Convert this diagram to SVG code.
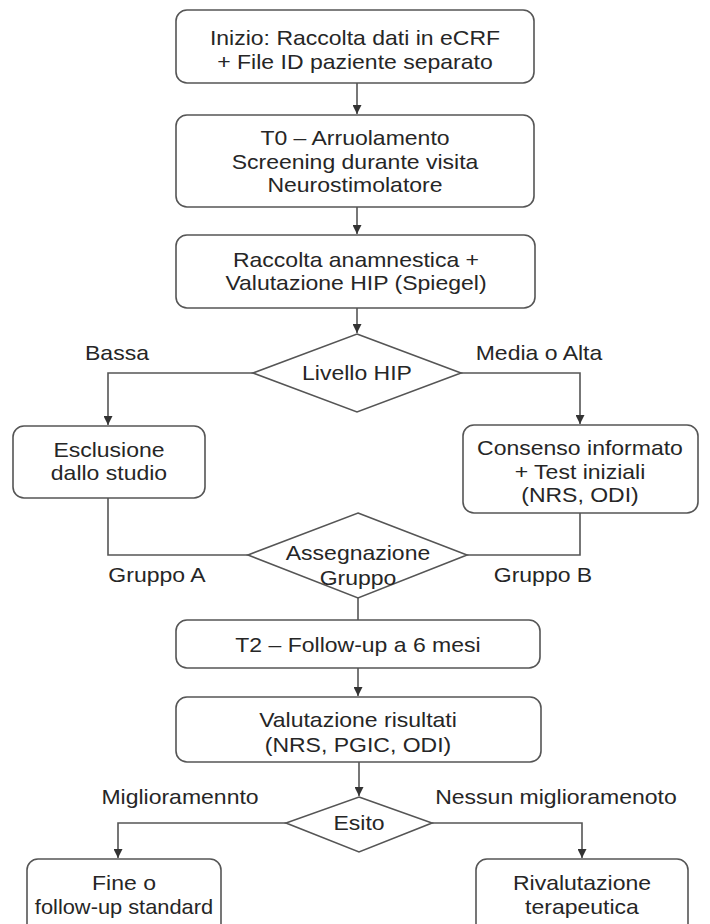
<svg xmlns="http://www.w3.org/2000/svg" width="710" height="924" viewBox="0 0 710 924">
<style>
.box{fill:#fff;stroke:#555;stroke-width:1.6}
.dia{fill:#fff;stroke:#555;stroke-width:1.6}
.c{fill:none;stroke:#555;stroke-width:1.6}
.t{font-family:"Liberation Sans",Arial,sans-serif;font-size:20px;fill:#262626;text-anchor:middle;transform-box:fill-box;transform-origin:center;transform:scaleX(1.15)}
</style>
<defs>
<marker id="ah" viewBox="0 0 10 10" refX="10" refY="5" markerWidth="9" markerHeight="9" markerUnits="userSpaceOnUse" orient="auto">
<path d="M0,0 L10,5 L0,10 z" fill="#333"/>
</marker>
</defs>
<rect width="710" height="924" fill="#fff"/>
<g id="connectors">
<path class="c" d="M357,83 V114" marker-end="url(#ah)"/>
<path class="c" d="M357,207 V234" marker-end="url(#ah)"/>
<path class="c" d="M357,308 V333" marker-end="url(#ah)"/>
<path class="c" d="M253,373 H108 V425" marker-end="url(#ah)"/>
<path class="c" d="M461,373 H580 V424" marker-end="url(#ah)"/>
<path class="c" d="M108,498 V555 H248"/>
<path class="c" d="M580,513 V555 H467"/>
<path class="c" d="M358,598 V620"/>
<path class="c" d="M358,668 V696" marker-end="url(#ah)"/>
<path class="c" d="M359,762 V796" marker-end="url(#ah)"/>
<path class="c" d="M286,823 H118 V858" marker-end="url(#ah)"/>
<path class="c" d="M432,823 H582 V858" marker-end="url(#ah)"/>
</g>
<g id="labels">
<text class="t" x="117" y="360">Bassa</text>
<text class="t" x="539" y="360">Media o Alta</text>
<text class="t" x="157" y="582">Gruppo A</text>
<text class="t" x="543" y="582">Gruppo B</text>
<text class="t" x="180" y="804">Miglioramennto</text>
<text class="t" x="556" y="804">Nessun miglioramenoto</text>
</g>
<g id="n1">
<rect class="box" x="176" y="10" width="358" height="73" rx="11"/>
<text class="t" x="355" y="45">Inizio: Raccolta dati in eCRF</text>
<text class="t" x="355" y="69">+ File ID paziente separato</text>
</g>
<g id="n2">
<rect class="box" x="176" y="115" width="358" height="92" rx="11"/>
<text class="t" x="355" y="145">T0 – Arruolamento</text>
<text class="t" x="355" y="169">Screening durante visita</text>
<text class="t" x="355" y="192">Neurostimolatore</text>
</g>
<g id="n3">
<rect class="box" x="176" y="235" width="359" height="73" rx="11"/>
<text class="t" x="356" y="267">Raccolta anamnestica +</text>
<text class="t" x="356" y="290">Valutazione HIP (Spiegel)</text>
</g>
<g id="d1">
<polygon class="dia" points="357,334 461,373 357,412 253,373"/>
<text class="t" x="357" y="380">Livello HIP</text>
</g>
<g id="n4">
<rect class="box" x="13" y="426" width="192" height="72" rx="11"/>
<text class="t" x="109" y="457">Esclusione</text>
<text class="t" x="109" y="480">dallo studio</text>
</g>
<g id="n5">
<rect class="box" x="463" y="425" width="235" height="88" rx="11"/>
<text class="t" x="580" y="455">Consenso informato</text>
<text class="t" x="580" y="479">+ Test iniziali</text>
<text class="t" x="580" y="502">(NRS, ODI)</text>
</g>
<g id="d2">
<polygon class="dia" points="358,513 467,555 358,598 248,555"/>
<text class="t" x="358" y="560">Assegnazione</text>
<text class="t" x="358" y="585">Gruppo</text>
</g>
<g id="n6">
<rect class="box" x="176" y="620" width="364" height="48" rx="11"/>
<text class="t" x="358" y="652">T2 – Follow-up a 6 mesi</text>
</g>
<g id="n7">
<rect class="box" x="176" y="697" width="365" height="65" rx="11"/>
<text class="t" x="358" y="727">Valutazione risultati</text>
<text class="t" x="358" y="752">(NRS, PGIC, ODI)</text>
</g>
<g id="d3">
<polygon class="dia" points="359,797 432,823 359,852 286,823"/>
<text class="t" x="359" y="830">Esito</text>
</g>
<g id="n8">
<rect class="box" x="27" y="859" width="194" height="80" rx="11"/>
<text class="t" x="124" y="890">Fine o</text>
<text class="t" x="124" y="914" textLength="155" lengthAdjust="spacingAndGlyphs">follow-up standard</text>
</g>
<g id="n9">
<rect class="box" x="476" y="859" width="212" height="80" rx="11"/>
<text class="t" x="582" y="890">Rivalutazione</text>
<text class="t" x="582" y="914">terapeutica</text>
</g>
</svg>
